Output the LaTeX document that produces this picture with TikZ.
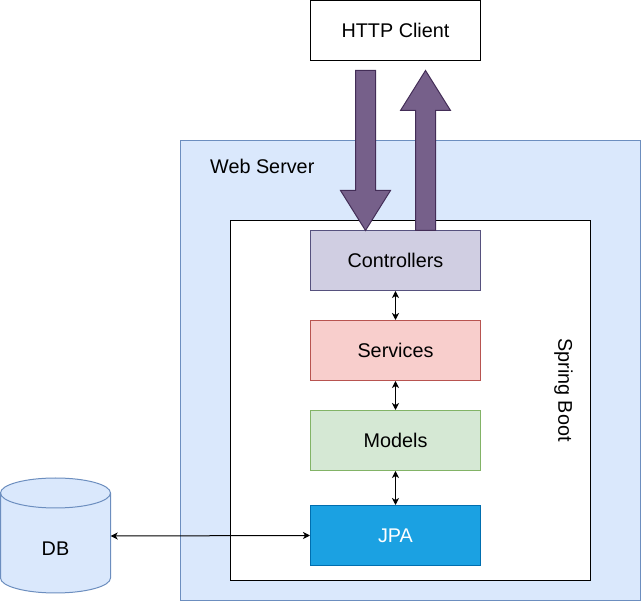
\documentclass[tikz,border=0pt]{standalone}
\usepackage{fontspec}
\setmainfont{Liberation Sans}
\usetikzlibrary{arrows.meta}
\definecolor{wsfill}{HTML}{DAE8FC}
\definecolor{wsdraw}{HTML}{6C8EBF}
\definecolor{ctfill}{HTML}{D0CEE2}
\definecolor{ctdraw}{HTML}{56517E}
\definecolor{svfill}{HTML}{F8CECC}
\definecolor{svdraw}{HTML}{B85450}
\definecolor{mdfill}{HTML}{D5E8D4}
\definecolor{mddraw}{HTML}{82B366}
\definecolor{jpfill}{HTML}{1BA1E2}
\definecolor{jpdraw}{HTML}{006EAF}
\definecolor{bafill}{HTML}{76608A}
\definecolor{badraw}{HTML}{432D57}
\begin{document}
\begin{tikzpicture}[x=1pt,y=-1pt,
  every node/.style={font=\fontsize{19.8}{23}\selectfont},
  layerbox/.style={draw, line width=1pt, minimum width=170pt, minimum height=60pt, inner sep=0pt},
  smallarrow/.style={line width=1pt, {Stealth[length=7pt,width=7pt,inset=2pt]}-{Stealth[length=7pt,width=7pt,inset=2pt]}},
  bigarrow/.style={fill=bafill, draw=badraw, line width=1pt, line join=miter}]
\useasboundingbox (0,0) rectangle (641,601);
% Web server container
\node[draw=wsdraw, fill=wsfill, line width=1pt, minimum width=460pt, minimum height=460pt, inner sep=0pt] (ws) at (410.5,370.5) {};
\node[anchor=west, inner sep=0pt] (wslabel) at (210,166) {Web Server};
% Spring Boot container
\node[draw=black, fill=white, line width=1pt, minimum width=360pt, minimum height=360pt, inner sep=0pt] (sb) at (410.5,400.5) {};
\node[rotate=-90, inner sep=0pt] (sblabel) at (563.5,390) {Spring Boot};
% HTTP client
\node[layerbox, draw=black, fill=white] (http) at (395.5,30.5) {HTTP Client};
% Layers
\node[layerbox, draw=ctdraw, fill=ctfill] (ctrl) at (395.5,260.5) {Controllers};
\node[layerbox, draw=svdraw, fill=svfill] (serv) at (395.5,350.5) {Services};
\node[layerbox, draw=mddraw, fill=mdfill] (mod) at (395.5,440.5) {Models};
\node[layerbox, draw=jpdraw, fill=jpfill, text=white] (jpa) at (395.5,535.5) {JPA};
% big arrows
\draw[bigarrow] (355.5,70.5) -- (375.5,70.5) -- (375.5,190.5) -- (390.5,190.5) -- (365.5,230.5) -- (340.5,190.5) -- (355.5,190.5) -- cycle;
\draw[bigarrow] (415.5,230.5) -- (435.5,230.5) -- (435.5,110.5) -- (450.5,110.5) -- (425.5,70.5) -- (400.5,110.5) -- (415.5,110.5) -- cycle;
% small arrows
\draw[smallarrow] (ctrl.south) -- (serv.north);
\draw[smallarrow] (serv.south) -- (mod.north);
\draw[smallarrow] (mod.south) -- (jpa.north);
% DB cylinder
\path[fill=wsfill, draw=wsdraw, line width=1pt] (0.5,493) -- (0.5,578) arc[start angle=180, end angle=360, x radius=55pt, y radius=15pt] -- (110.5,493) arc[start angle=0, end angle=180, x radius=55pt, y radius=15pt] -- cycle;
\draw[wsdraw, line width=1pt] (0.5,493) arc[start angle=180, end angle=360, x radius=55pt, y radius=15pt];
\node[minimum width=110pt, minimum height=115pt, inner sep=0pt] (db) at (55.5,536) {};
\node[inner sep=0pt] (dblabel) at (55.5,549) {DB};
\draw[smallarrow] (db.east) -- (jpa.west);
\end{tikzpicture}
\end{document}
